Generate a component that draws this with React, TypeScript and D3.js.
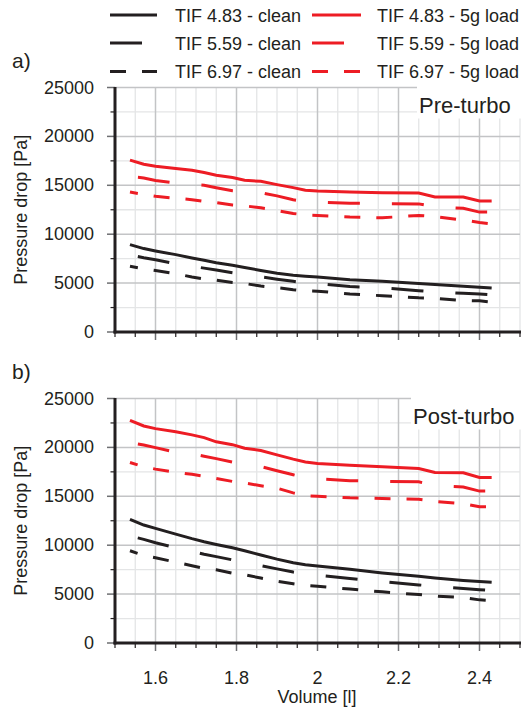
import React from "react";
import * as d3 from "d3";

// Volume [l] at which each series was sampled
const volume = [1.537, 1.571, 1.6, 1.65, 1.69, 1.72, 1.75, 1.79, 1.82, 1.86, 1.9, 1.94, 1.97, 2.0, 2.08, 2.16, 2.25, 2.29, 2.36, 2.4, 2.43];

// Pre-turbo pressure drop [Pa]
const preClean483 = [8940, 8530, 8290, 7910, 7570, 7330, 7090, 6820, 6600, 6290, 6000, 5800, 5700, 5620, 5350, 5180, 4950, 4850, 4670, 4570, 4490];
const preClean559 = [7870, 7590, 7380, 6970, 6720, 6530, 6340, 6060, 5880, 5650, 5400, 5180, 5000, 4950, 4650, 4520, 4230, 4100, 3960, 3880, 3800];
const preClean697 = [6720, 6450, 6290, 5950, 5630, 5420, 5300, 5060, 4960, 4700, 4530, 4330, 4210, 4170, 3890, 3710, 3500, 3450, 3210, 3190, 3050];
const preLoad483 = [17570, 17160, 16950, 16710, 16540, 16300, 16030, 15790, 15510, 15410, 15070, 14760, 14490, 14420, 14320, 14250, 14210, 13800, 13800, 13390, 13390];
const preLoad559 = [15900, 15750, 15500, 15230, 15100, 15000, 14750, 14450, 14330, 14250, 13920, 13520, 13350, 13290, 13170, 13120, 13100, 12800, 12650, 12260, 12260];
const preLoad697 = [14320, 14050, 13870, 13680, 13530, 13350, 13220, 12980, 12900, 12700, 12420, 12120, 11960, 11910, 11750, 11680, 11920, 11800, 11440, 11200, 11060];

// Post-turbo pressure drop [Pa]
const postClean483 = [12650, 12060, 11720, 11130, 10670, 10360, 10080, 9740, 9430, 9000, 8580, 8200, 8000, 7870, 7530, 7160, 6820, 6650, 6400, 6290, 6210];
const postClean559 = [10950, 10600, 10250, 9730, 9370, 9080, 8830, 8500, 8250, 7910, 7580, 7250, 7040, 6940, 6600, 6290, 5940, 5800, 5580, 5450, 5360];
const postClean697 = [9430, 8950, 8720, 8260, 7900, 7640, 7480, 7140, 6980, 6640, 6320, 6060, 5890, 5800, 5510, 5230, 4950, 4810, 4640, 4410, 4320];
const postLoad483 = [22770, 22190, 21920, 21600, 21280, 21000, 20570, 20280, 19920, 19690, 19240, 18800, 18500, 18350, 18180, 18010, 17840, 17430, 17400, 16920, 16920];
const postLoad559 = [20500, 20250, 19980, 19500, 19350, 19100, 18850, 18500, 18300, 18050, 17620, 17200, 16900, 16800, 16600, 16520, 16480, 16100, 15950, 15530, 15530];
const postLoad697 = [18460, 18020, 17780, 17450, 17250, 17050, 16820, 16520, 16360, 16080, 15830, 15350, 15060, 15010, 14840, 14780, 14700, 14470, 14240, 13930, 13930];

const seriesNames = ["TIF 4.83 - clean", "TIF 5.59 - clean", "TIF 6.97 - clean", "TIF 4.83 - 5g load", "TIF 5.59 - 5g load", "TIF 6.97 - 5g load"];
const xTickLabels = [1.6, 1.8, 2, 2.2, 2.4];
const yTickLabels = [0, 5000, 10000, 15000, 20000, 25000];

const RED = "#ed1c24";
const BLACK = "#231f20";
const TEXT = "#231f20";
const FONT = "'Liberation Sans', Arial, Helvetica, sans-serif";
const FS = 18;

// stroke styles: solid, long dash, short dash
const dashStyles = [
  { dash: undefined as string | undefined, offset: 0 },
  { dash: "32 32", offset: 56 },
  { dash: "16 16", offset: 8 },
];

const x = d3.scaleLinear().domain([1.5, 2.5]).range([115, 520]);

type PanelProps = {
  top: number;
  bottom: number;
  tag: string;
  title: string;
  titleBoxX: number;
  clean: number[][];
  load: number[][];
  showXLabels: boolean;
};

function Panel({ top, bottom, tag, title, titleBoxX, clean, load, showXLabels }: PanelProps) {
  const y = d3.scaleLinear().domain([0, 25000]).range([bottom, top]);
  const line = (vals: number[]) =>
    d3.line<number>().x((_, i) => x(volume[i])).y((v) => y(v))(vals) || "";

  const xGrid = d3.range(31, 51).map((k) => k * 0.05); // 1.55 .. 2.5
  const yGrid = d3.range(1, 11).map((k) => k * 2500);
  const isMajorX = (v: number) => Math.abs(v * 5 - Math.round(v * 5)) < 1e-6;
  const isMajorY = (v: number) => v % 5000 === 0;
  const [x0, x1] = x.range();

  return (
    <g>
      {/* grid */}
      {xGrid.filter((v) => !isMajorX(v)).map((v) => (
        <line key={"vx" + v} x1={x(v)} x2={x(v)} y1={top} y2={bottom} stroke="#e4e5e6" strokeWidth={1.3} />
      ))}
      {yGrid.filter((v) => !isMajorY(v)).map((v) => (
        <line key={"hy" + v} x1={x0} x2={x1} y1={y(v)} y2={y(v)} stroke="#e4e5e6" strokeWidth={1.3} />
      ))}
      {xGrid.filter(isMajorX).map((v) => (
        <line key={"Vx" + v} x1={x(v)} x2={x(v)} y1={top} y2={bottom} stroke="#c3c4c6" strokeWidth={1.5} />
      ))}
      {yGrid.filter(isMajorY).map((v) => (
        <line key={"Hy" + v} x1={x0} x2={x1} y1={y(v)} y2={y(v)} stroke="#c3c4c6" strokeWidth={1.5} />
      ))}

      {/* title box */}
      <rect x={titleBoxX} y={top - 2} width={x1 - titleBoxX + 2} height={33} fill="#ffffff" />
      <text x={titleBoxX + 2} y={top + 25} fontFamily={FONT} fontSize={22} fill={TEXT}>{title}</text>

      {/* y ticks */}
      {d3.range(0, 11).map((k) => {
        const v = k * 2500;
        const major = v % 5000 === 0;
        return (
          <line key={"yt" + v} x1={major ? 107 : 110.5} x2={115} y1={y(v)} y2={y(v)}
            stroke={major ? "#6d6e71" : BLACK} strokeWidth={major ? 1.5 : 1.2} />
        );
      })}
      {yTickLabels.map((v) => (
        <text key={"yl" + v} x={94} y={y(v) + 6} textAnchor="end" fontFamily={FONT} fontSize={FS} fill={TEXT}>{v}</text>
      ))}

      {/* x ticks */}
      {d3.range(30, 51).map((k) => {
        const v = k * 0.05;
        const major = isMajorX(v) && k > 30 && k < 50;
        return (
          <line key={"xt" + k} x1={x(v)} x2={x(v)} y1={bottom} y2={bottom + (major ? 8 : 5)}
            stroke={major ? "#6d6e71" : BLACK} strokeWidth={major ? 1.5 : 1.2} />
        );
      })}
      {showXLabels && xTickLabels.map((v) => (
        <text key={"xl" + v} x={x(v)} y={bottom + 41} textAnchor="middle" fontFamily={FONT} fontSize={FS} fill={TEXT}>{v}</text>
      ))}

      {/* series */}
      {load.map((vals, i) => (
        <path key={"ld" + i} d={line(vals)} fill="none" stroke={RED} strokeWidth={3}
          strokeDasharray={dashStyles[i].dash} strokeDashoffset={dashStyles[i].offset} />
      ))}
      {clean.map((vals, i) => (
        <path key={"cl" + i} d={line(vals)} fill="none" stroke={BLACK} strokeWidth={3}
          strokeDasharray={dashStyles[i].dash} strokeDashoffset={dashStyles[i].offset} />
      ))}

      {/* axes */}
      <line x1={115} x2={115} y1={top - 0.5} y2={bottom + 1.5} stroke={BLACK} strokeWidth={3} />
      <line x1={113.5} x2={x1 + 1} y1={bottom} y2={bottom} stroke={BLACK} strokeWidth={3} />

      {/* y label */}
      <text transform={`translate(27,${(top + bottom) / 2}) rotate(-90)`} textAnchor="middle"
        fontFamily={FONT} fontSize={FS} fill={TEXT}>Pressure drop [Pa]</text>

      <text x={12} y={top - 20} fontFamily={FONT} fontSize={21} fill={TEXT}>{tag}</text>
    </g>
  );
}

function Legend() {
  const rows = [21.5, 49.5, 78];
  return (
    <g>
      {rows.map((by, i) => (
        <g key={i}>
          <line x1={110} x2={157} y1={by - 6.5} y2={by - 6.5} stroke={BLACK} strokeWidth={3}
            strokeDasharray={dashStyles[i].dash} />
          <text x={175} y={by} fontFamily={FONT} fontSize={FS} fill={TEXT}>{seriesNames[i]}</text>
          <line x1={312} x2={361} y1={by - 6.5} y2={by - 6.5} stroke={RED} strokeWidth={3}
            strokeDasharray={dashStyles[i].dash} />
          <text x={377} y={by} fontFamily={FONT} fontSize={FS} fill={TEXT}>{seriesNames[i + 3]}</text>
        </g>
      ))}
    </g>
  );
}

export default function App() {
  return (
    <svg width={527} height={713} viewBox="0 0 527 713"
      style={{ position: "absolute", left: 0, top: 0, background: "#ffffff" }}>
      <rect x={0} y={0} width={527} height={713} fill="#ffffff" />
      <Legend />
      <Panel top={87.5} bottom={332} tag="a)" title="Pre-turbo" titleBoxX={417}
        clean={[preClean483, preClean559, preClean697]} load={[preLoad483, preLoad559, preLoad697]} showXLabels={false} />
      <Panel top={398.5} bottom={643} tag="b)" title="Post-turbo" titleBoxX={411}
        clean={[postClean483, postClean559, postClean697]} load={[postLoad483, postLoad559, postLoad697]} showXLabels={true} />
      <text x={317} y={703} textAnchor="middle" fontFamily={FONT} fontSize={FS} fill={TEXT}>Volume [l]</text>
    </svg>
  );
}
